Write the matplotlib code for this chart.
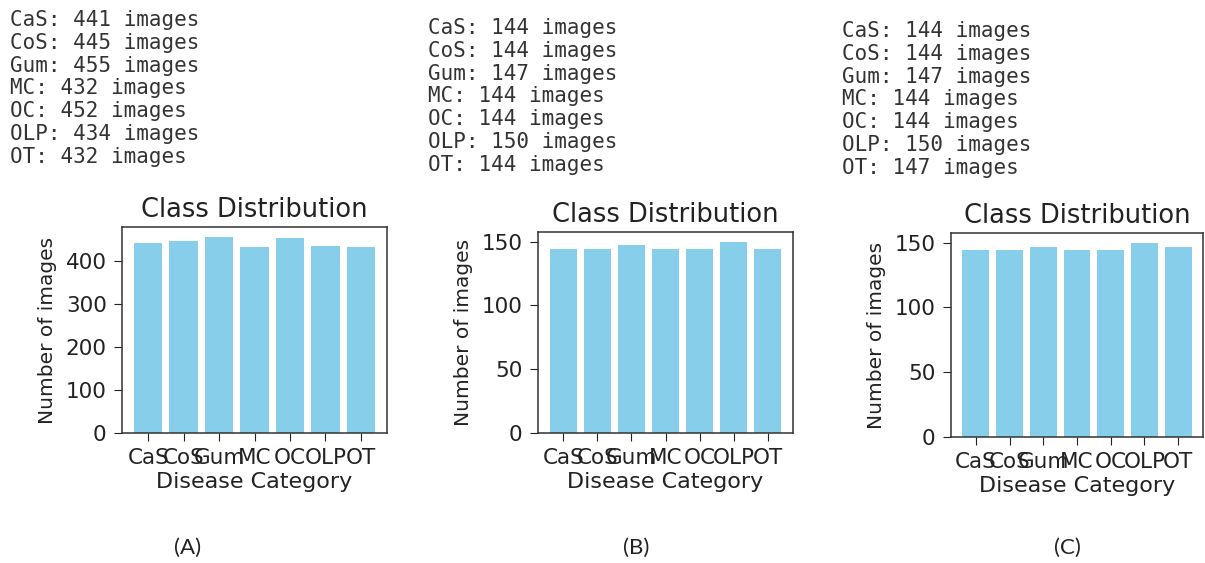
import matplotlib.pyplot as plt
from matplotlib.ticker import MultipleLocator

# class counts for the three splits
classes = ["CaS", "CoS", "Gum", "MC", "OC", "OLP", "OT"]
counts_a = [441, 445, 455, 432, 452, 434, 432]
counts_b = [144, 144, 147, 144, 144, 150, 144]
counts_c = [144, 144, 147, 144, 144, 150, 147]
y_steps = [100, 50, 50]
panel_tags = ["(A)", "(B)", "(C)"]

W, H = 1205, 563
fig = plt.figure(figsize=(W / 100, H / 100), dpi=100)

# axes boxes in pixels: left, right, top, bottom
boxes = [(122, 387, 227, 433), (538, 793, 232, 433), (951, 1203, 233, 437)]
# printed summary: left x, first line y
text_pos = [(10, 20), (428, 28), (842, 31)]
tag_x = [188, 636, 1067]
line_step = 22.8

for counts, step, (l, r, t, b), (tx, ty), tag, gx in zip(
        [counts_a, counts_b, counts_c], y_steps, boxes, text_pos,
        panel_tags, tag_x):
    ax = fig.add_axes([l / W, 1 - b / H, (r - l) / W, (b - t) / H])
    ax.bar(classes, counts, color='skyblue')
    ax.yaxis.set_major_locator(MultipleLocator(step))
    ax.set_title('Class Distribution', fontsize=18.5, color='#222222', pad=7)
    ax.set_xlabel('Disease Category', fontsize=16, color='#222222', labelpad=3)
    ax.set_ylabel('Number of images', fontsize=14.5, color='#222222', labelpad=6)
    ax.tick_params(labelsize=15.5, colors='#222222', length=6, pad=5)
    for s in ax.spines.values():
        s.set_color('#333333')
        s.set_linewidth(1.1)

    for i, (c, n) in enumerate(zip(classes, counts)):
        fig.text(tx / W, 1 - (ty + i * line_step) / H, f"{c}: {n} images",
                 family='DejaVu Sans Mono', fontsize=15, color='#333333',
                 va='center', ha='left')

    fig.text(gx / W, 1 - 548 / H, tag, family='Lato', fontsize=16,
             color='#222222', ha='center', va='center')

fig.savefig('out.png', dpi=100)
